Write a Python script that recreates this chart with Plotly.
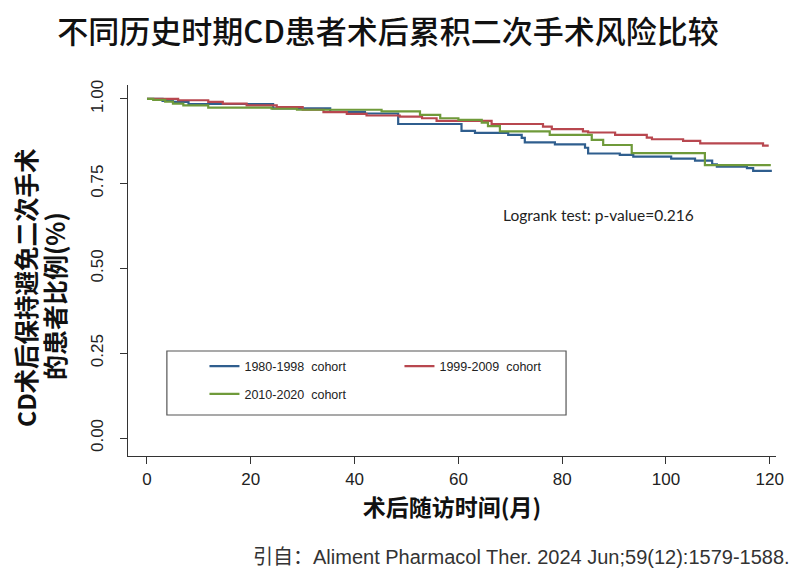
import plotly.graph_objects as go

# ---- data ----
cohort_names = ["1980-1998  cohort", "1999-2009  cohort", "2010-2020  cohort"]
cohort_colors = ["#2f5e8e", "#b8474f", "#6f9a3a"]

months_1980 = [0, 3, 5, 8, 24.3, 35.3, 42, 48.4, 60.6, 63.2, 69.6, 72.2, 72.8, 78.6,
               84.4, 85, 91.1, 93.7, 101, 105.6, 108.9, 109.8, 115.6, 116.8, 120.4]
surv_1980 = [1.0, 0.994, 0.991, 0.985, 0.972, 0.962, 0.957, 0.926, 0.906, 0.900, 0.894,
             0.885, 0.872, 0.866, 0.856, 0.839, 0.835, 0.830, 0.824, 0.818, 0.807, 0.800,
             0.796, 0.788, 0.788]

months_1999 = [0, 6, 11.8, 14.6, 19.2, 25, 30, 34, 38.5, 42.3, 48.7, 53, 55.8, 66.4,
               76.3, 78, 84, 85, 90.2, 96.3, 97.3, 103.3, 106.6, 118.7, 119.8]
surv_1999 = [1.0, 0.996, 0.991, 0.986, 0.981, 0.976, 0.968, 0.961, 0.956, 0.951, 0.948,
             0.943, 0.935, 0.926, 0.918, 0.911, 0.904, 0.901, 0.894, 0.886, 0.881, 0.876,
             0.869, 0.862, 0.862]

months_2010 = [0, 1.2, 3.5, 5, 7, 11.8, 24, 28.9, 45.2, 52.6, 56.5, 60, 64.5, 65.7, 68,
               77.6, 85.7, 87.9, 93.4, 107.5, 120.2]
surv_2010 = [1.0, 0.997, 0.992, 0.986, 0.981, 0.974, 0.971, 0.968, 0.963, 0.953, 0.943,
             0.938, 0.930, 0.920, 0.904, 0.894, 0.879, 0.864, 0.840, 0.805, 0.805]

x_ticks = [0, 20, 40, 60, 80, 100, 120]
y_ticks = [0.0, 0.25, 0.5, 0.75, 1.0]
y_tick_text = ["0.00", "0.25", "0.50", "0.75", "1.00"]

title_text = "不同历史时期CD患者术后累积二次手术风险比较"
x_title = "术后随访时间(月)"
y_title_line1 = "CD术后保持避免二次手术"
y_title_line2 = "的患者比例(%)"
logrank_text = "Logrank test: p-value=0.216"
source_text = "引自：Aliment Pharmacol Ther. 2024 Jun;59(12):1579-1588."

CJK = "Noto Sans CJK SC, sans-serif"
LATIN = "Liberation Sans, Arial, sans-serif"

fig = go.Figure()
series = [(months_1980, surv_1980), (months_1999, surv_1999), (months_2010, surv_2010)]
legends = ["legend", "legend", "legend2"]
for (t, s), name, color, lg in zip(series, cohort_names, cohort_colors, legends):
    fig.add_trace(go.Scatter(
        x=t, y=s, mode="lines", name=name,
        line=dict(shape="hv", color=color, width=2.2),
        legend=lg, hoverinfo="x+y+name",
    ))

axis_common = dict(
    showgrid=False, zeroline=False, showline=True, linecolor="#333333", linewidth=1.3,
    ticks="outside", ticklen=7, tickwidth=1.3, tickcolor="#333333",
    tickfont=dict(family=LATIN, size=17, color="#222222"),
)

fig.update_layout(
    width=800, height=585,
    margin=dict(l=120, r=32, t=77, b=137),
    paper_bgcolor="white", plot_bgcolor="white",
    title=dict(text=title_text, x=0.475, xanchor="center",
               y=0.958, yanchor="middle",
               font=dict(family=CJK, size=31, color="#111111", weight=500)),
    xaxis=dict(range=[-3.66, 121.2], tickvals=x_ticks, **axis_common,
               title=dict(text="<b>" + x_title + "</b>", standoff=9,
                          font=dict(family=CJK, size=23, color="#111111"))),
    yaxis=dict(range=[-0.053, 1.041], tickvals=y_ticks, ticktext=y_tick_text,
               tickangle=-90, ticklabelstandoff=10, **axis_common),
    legend=dict(orientation="h", x=0.118, xanchor="left", y=0.2815, yanchor="top",
                bgcolor="rgba(0,0,0,0)", borderwidth=0, entrywidth=150,
                entrywidthmode="pixels",
                font=dict(family=LATIN, size=12.5, color="#222222")),
    legend2=dict(orientation="h", x=0.118, xanchor="left", y=0.207, yanchor="top",
                 bgcolor="rgba(0,0,0,0)", borderwidth=0,
                 font=dict(family=LATIN, size=12.5, color="#222222")),
    showlegend=True,
)

# legend frame
fig.add_shape(type="rect", xref="paper", yref="paper",
              x0=0.060, x1=0.676, y0=0.1105, y1=0.283,
              line=dict(color="#555555", width=1.2), fillcolor="rgba(0,0,0,0)")

# y-axis title (two lines)
fig.add_annotation(text="<b>" + y_title_line1 + "</b>", xref="paper", yref="paper",
                   x=-0.1574, y=0.453, xanchor="center", yanchor="middle",
                   textangle=-90, showarrow=False,
                   font=dict(family=CJK, size=24.5, color="#111111"))
fig.add_annotation(text="<b>" + y_title_line2 + "</b>", xref="paper", yref="paper",
                   x=-0.1142, y=0.431, xanchor="center", yanchor="middle",
                   textangle=-90, showarrow=False,
                   font=dict(family=CJK, size=25, color="#111111"))

fig.add_annotation(text=logrank_text, xref="x", yref="y", x=68.3, y=0.658,
                   xanchor="left", yanchor="middle", showarrow=False,
                   font=dict(family="Lato, Open Sans, sans-serif", size=15.5, color="#222222"))

fig.add_annotation(text=source_text, xref="paper", yref="paper", x=1.025, y=-0.272,
                   xanchor="right", yanchor="middle", showarrow=False,
                   font=dict(family="Liberation Sans, " + CJK, size=20, color="#333333"))

fig.write_html("out.html")
